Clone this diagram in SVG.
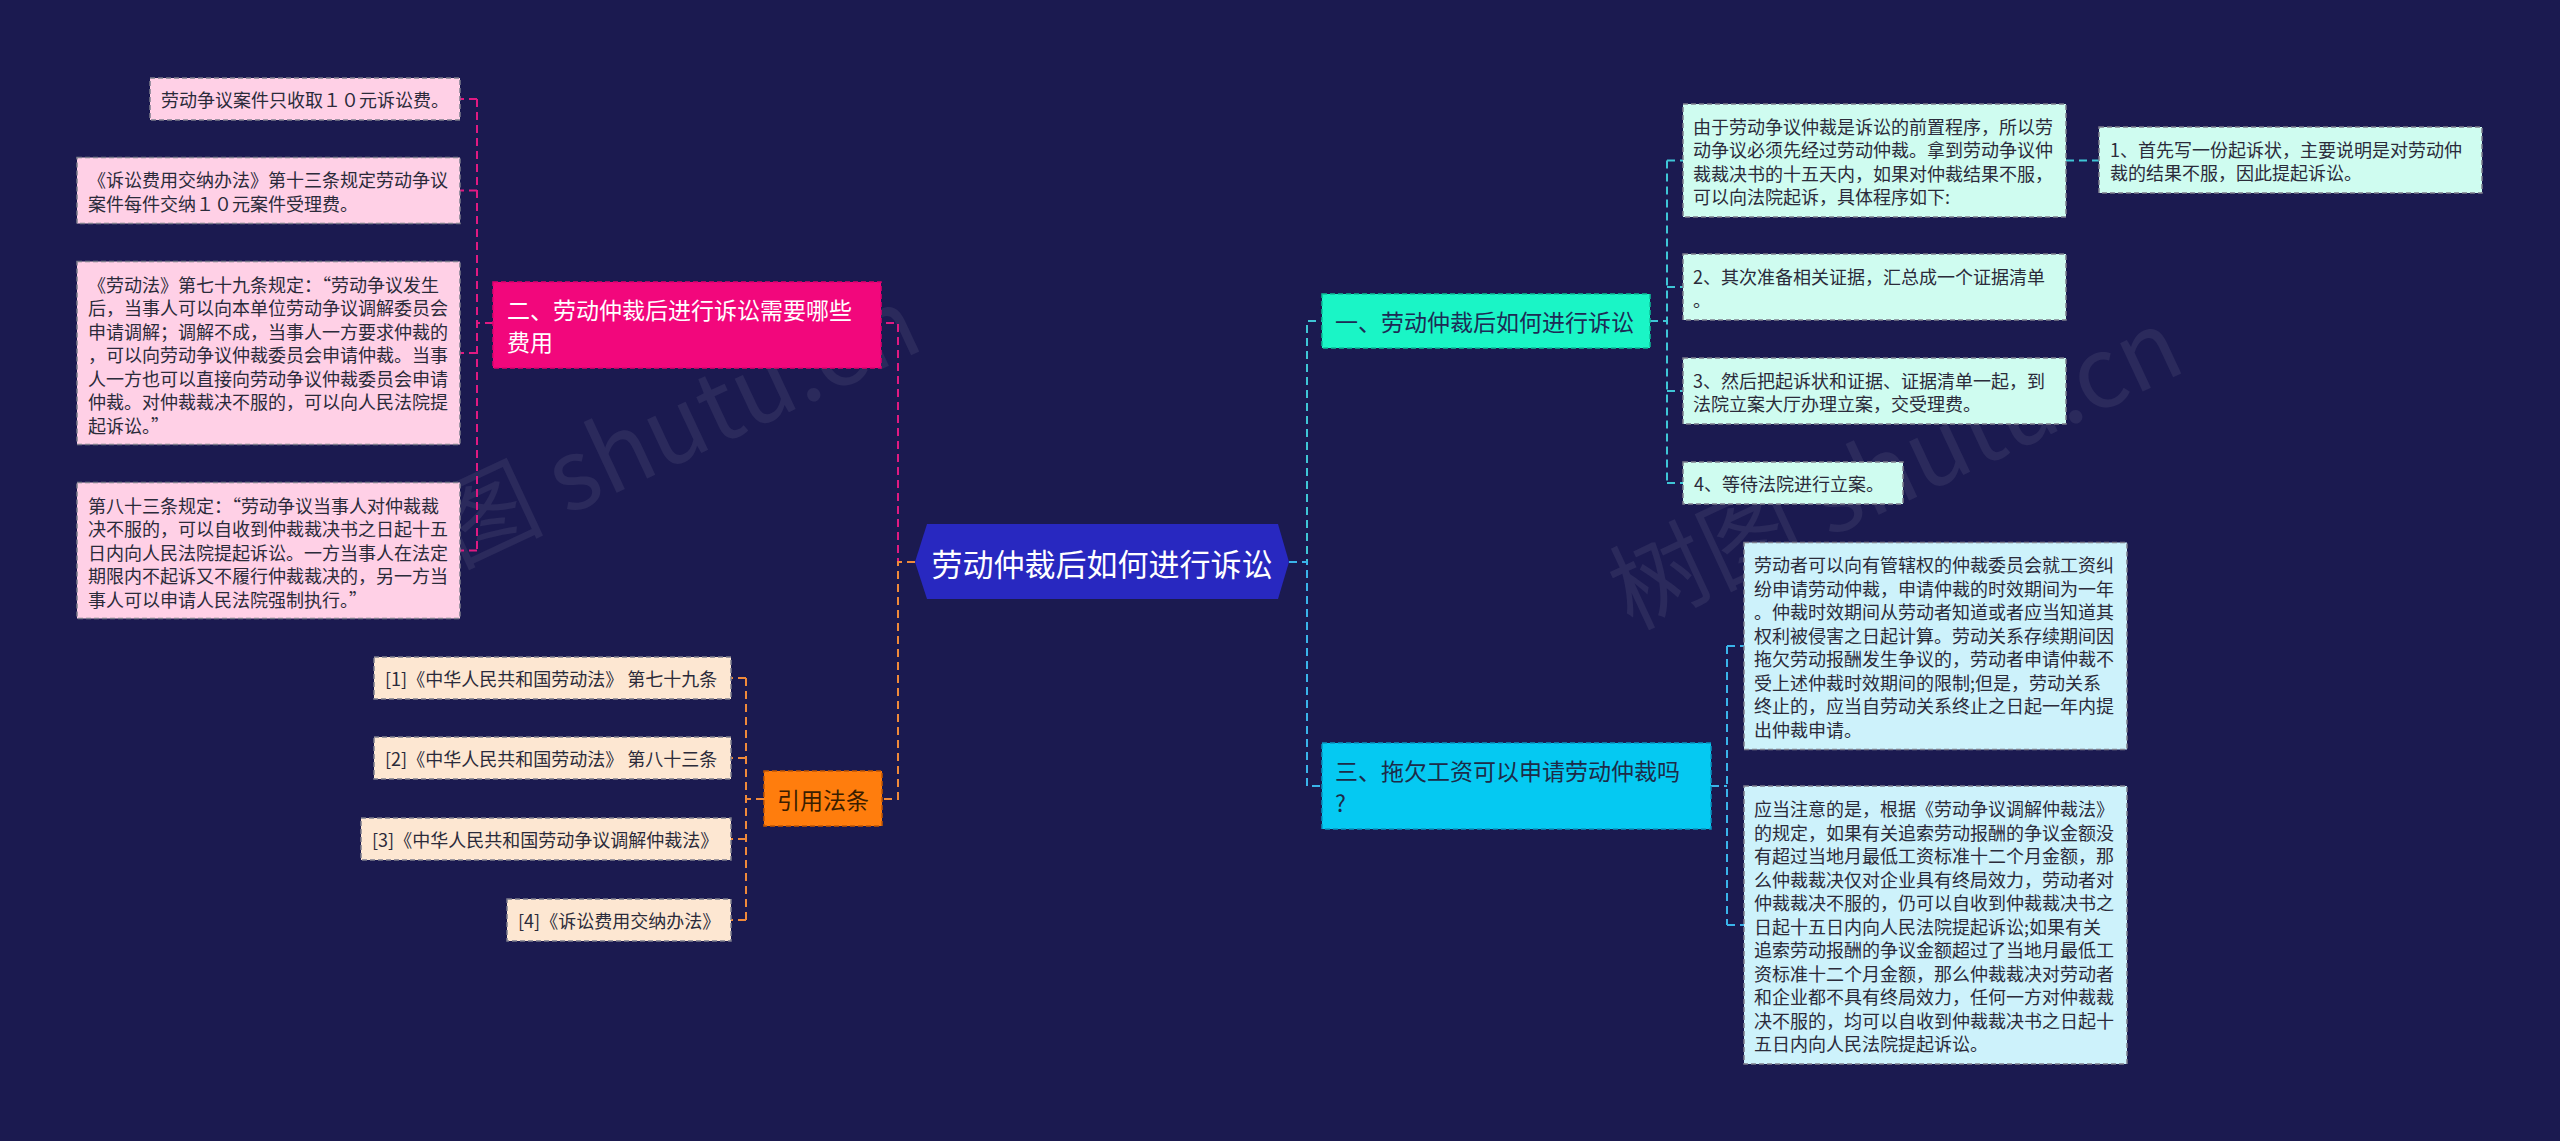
<svg xmlns="http://www.w3.org/2000/svg" width="2560" height="1141" viewBox="0 0 2560 1141">
<style>
.t{font-family:"Noto Sans CJK SC","Noto Sans",sans-serif;dominant-baseline:central}
.s{font-size:18px;fill:#2b2b3a}
.m{font-size:23px}
.box{stroke:#7d7d8c;stroke-width:1.5;stroke-dasharray:5 3}
.pk{fill:#ffd0e6}
.pe{fill:#fde7d2}
.cy{fill:#cffcf0}
.bl{fill:#cdf2fb}
.e{fill:none;stroke-width:2;stroke-dasharray:8 5}
.ep{stroke:#e01a82}
.eo{stroke:#f08a3a}
.et{stroke:#3fc6d6}
.eb{stroke:#3ab4ea}
.wm{font-family:"Noto Sans CJK SC","Noto Sans",sans-serif;font-size:98px;fill:#ffffff;fill-opacity:0.07}
</style>
<rect width="2560" height="1141" fill="#1b1a50"/>
<g id="watermarks">
<text class="wm" transform="translate(648 478) rotate(-25)" text-anchor="middle">树图 shutu.cn</text>
<text class="wm" transform="translate(1910 500) rotate(-25)" text-anchor="middle">树图 shutu.cn</text>
</g>
<g id="connectors">
<path class="e ep" d="M915 562H898V323H881"/>
<path class="e eo" d="M915 562H898V799H882"/>
<path class="e et" d="M1289 562H1307V321H1322"/>
<path class="e eb" d="M1289 562H1307V786H1322"/>
<path class="e ep" d="M493 323H477M477 99V550.5M477 99H460M477 190.5H460M477 353H460M477 550.5H460"/>
<path class="e eo" d="M764 799H746M746 678V920M746 678H731M746 758H731M746 839H731M746 920H731"/>
<path class="e et" d="M1650 321H1667M1667 160.5V483M1667 160.5H1683M1667 287H1683M1667 391H1683M1667 483H1683"/>
<path class="e et" d="M2066 160.5H2099"/>
<path class="e eb" d="M1711 786H1727M1727 646V925M1727 646H1744M1727 925H1744"/>
</g>
<g id="center">
<polygon points="915,562 927,524 1278,524 1289,562 1278,599 927,599" fill="#2828c0"/>
<text class="t" x="1102" y="562" text-anchor="middle" font-size="31" fill="#ffffff">劳动仲裁后如何进行诉讼</text>
</g>
<g id="n2">
<rect x="493" y="282" width="388" height="86" fill="#f2077c" stroke="#e0006e" stroke-width="1.5" stroke-dasharray="5 3"/>
<text class="t m" fill="#ffffff"><tspan x="507" y="309">二、劳动仲裁后进行诉讼需要哪些</tspan><tspan x="507" y="341">费用</tspan></text>
</g>
<g id="n2a">
<rect class="box pk" x="150" y="78" width="310" height="42"/>
<text class="t s" x="161" y="99">劳动争议案件只收取１０元诉讼费。</text>
</g>
<g id="n2b">
<rect class="box pk" x="77" y="157.5" width="383" height="66"/>
<text class="t s"><tspan x="88" y="179">《诉讼费用交纳办法》第十三条规定劳动争议</tspan><tspan x="88" y="202.5">案件每件交纳１０元案件受理费。</tspan></text>
</g>
<g id="n2c">
<rect class="box pk" x="77" y="261.5" width="383" height="183"/>
<text class="t s"><tspan x="88" y="283.5">《劳动法》第七十九条规定：“劳动争议发生</tspan><tspan x="88" y="307">后，当事人可以向本单位劳动争议调解委员会</tspan><tspan x="88" y="330.5">申请调解；调解不成，当事人一方要求仲裁的</tspan><tspan x="88" y="354">，可以向劳动争议仲裁委员会申请仲裁。当事</tspan><tspan x="88" y="377.5">人一方也可以直接向劳动争议仲裁委员会申请</tspan><tspan x="88" y="401">仲裁。对仲裁裁决不服的，可以向人民法院提</tspan><tspan x="88" y="424.5">起诉讼。”</tspan></text>
</g>
<g id="n2d">
<rect class="box pk" x="77" y="482.5" width="383" height="136"/>
<text class="t s"><tspan x="88" y="504.5">第八十三条规定：“劳动争议当事人对仲裁裁</tspan><tspan x="88" y="528">决不服的，可以自收到仲裁裁决书之日起十五</tspan><tspan x="88" y="551.5">日内向人民法院提起诉讼。一方当事人在法定</tspan><tspan x="88" y="575">期限内不起诉又不履行仲裁裁决的，另一方当</tspan><tspan x="88" y="598.5">事人可以申请人民法院强制执行。”</tspan></text>
</g>
<g id="n4">
<rect x="764" y="771" width="118" height="55" fill="#ff7d0d" stroke="#c25500" stroke-width="1.5" stroke-dasharray="5 3"/>
<text class="t m" x="823" y="799" text-anchor="middle" fill="#3a1d00">引用法条</text>
</g>
<g id="n4a">
<rect class="box pe" x="374" y="657" width="357" height="42"/>
<text class="t s" x="385" y="678">[1]《中华人民共和国劳动法》 第七十九条</text>
</g>
<g id="n4b">
<rect class="box pe" x="374" y="737" width="357" height="42"/>
<text class="t s" x="385" y="758">[2]《中华人民共和国劳动法》 第八十三条</text>
</g>
<g id="n4c">
<rect class="box pe" x="361" y="818" width="370" height="42"/>
<text class="t s" x="372" y="839">[3]《中华人民共和国劳动争议调解仲裁法》</text>
</g>
<g id="n4d">
<rect class="box pe" x="507" y="899" width="224" height="42"/>
<text class="t s" x="518" y="920">[4]《诉讼费用交纳办法》</text>
</g>
<g id="n1">
<rect x="1322" y="294" width="328" height="54" fill="#1af5c6" stroke="#0bbf98" stroke-width="1.5" stroke-dasharray="5 3"/>
<text class="t m" x="1335" y="321" fill="#1d2b55">一、劳动仲裁后如何进行诉讼</text>
</g>
<g id="n1a">
<rect class="box cy" x="1683" y="104" width="383" height="113"/>
<text class="t s"><tspan x="1693" y="125.5">由于劳动争议仲裁是诉讼的前置程序，所以劳</tspan><tspan x="1693" y="149">动争议必须先经过劳动仲裁。拿到劳动争议仲</tspan><tspan x="1693" y="172.5">裁裁决书的十五天内，如果对仲裁结果不服，</tspan><tspan x="1693" y="196">可以向法院起诉，具体程序如下:</tspan></text>
</g>
<g id="n1a1">
<rect class="box cy" x="2099" y="127" width="383" height="66"/>
<text class="t s"><tspan x="2110" y="148.5">1、首先写一份起诉状，主要说明是对劳动仲</tspan><tspan x="2110" y="172">裁的结果不服，因此提起诉讼。</tspan></text>
</g>
<g id="n1b">
<rect class="box cy" x="1683" y="254" width="383" height="66"/>
<text class="t s"><tspan x="1693" y="275.5"> 2、其次准备相关证据，汇总成一个证据清单</tspan><tspan x="1693" y="299">。</tspan></text>
</g>
<g id="n1c">
<rect class="box cy" x="1683" y="358" width="383" height="66"/>
<text class="t s"><tspan x="1693" y="379.5"> 3、然后把起诉状和证据、证据清单一起，到</tspan><tspan x="1693" y="403">法院立案大厅办理立案，交受理费。</tspan></text>
</g>
<g id="n1d">
<rect class="box cy" x="1683" y="462" width="220" height="42"/>
<text class="t s" x="1694" y="483">4、等待法院进行立案。</text>
</g>
<g id="n3">
<rect x="1322" y="743" width="389" height="86" fill="#05c9f2" stroke="#0a94c0" stroke-width="1.5" stroke-dasharray="5 3"/>
<text class="t m" fill="#1d2b48"><tspan x="1335" y="770">三、拖欠工资可以申请劳动仲裁吗</tspan><tspan x="1335" y="802">?</tspan></text>
</g>
<g id="n3a">
<rect class="box bl" x="1744" y="542.5" width="383" height="207"/>
<text class="t s"><tspan x="1754" y="564">劳动者可以向有管辖权的仲裁委员会就工资纠</tspan><tspan x="1754" y="587.5">纷申请劳动仲裁，申请仲裁的时效期间为一年</tspan><tspan x="1754" y="611">。仲裁时效期间从劳动者知道或者应当知道其</tspan><tspan x="1754" y="634.5">权利被侵害之日起计算。劳动关系存续期间因</tspan><tspan x="1754" y="658">拖欠劳动报酬发生争议的，劳动者申请仲裁不</tspan><tspan x="1754" y="681.5">受上述仲裁时效期间的限制;但是，劳动关系</tspan><tspan x="1754" y="705">终止的，应当自劳动关系终止之日起一年内提</tspan><tspan x="1754" y="728.5">出仲裁申请。</tspan></text>
</g>
<g id="n3b">
<rect class="box bl" x="1744" y="786" width="383" height="278"/>
<text class="t s"><tspan x="1754" y="808">应当注意的是，根据《劳动争议调解仲裁法》</tspan><tspan x="1754" y="831.5">的规定，如果有关追索劳动报酬的争议金额没</tspan><tspan x="1754" y="855">有超过当地月最低工资标准十二个月金额，那</tspan><tspan x="1754" y="878.5">么仲裁裁决仅对企业具有终局效力，劳动者对</tspan><tspan x="1754" y="902">仲裁裁决不服的，仍可以自收到仲裁裁决书之</tspan><tspan x="1754" y="925.5">日起十五日内向人民法院提起诉讼;如果有关</tspan><tspan x="1754" y="949">追索劳动报酬的争议金额超过了当地月最低工</tspan><tspan x="1754" y="972.5">资标准十二个月金额，那么仲裁裁决对劳动者</tspan><tspan x="1754" y="996">和企业都不具有终局效力，任何一方对仲裁裁</tspan><tspan x="1754" y="1019.5">决不服的，均可以自收到仲裁裁决书之日起十</tspan><tspan x="1754" y="1043">五日内向人民法院提起诉讼。</tspan></text>
</g>
</svg>
